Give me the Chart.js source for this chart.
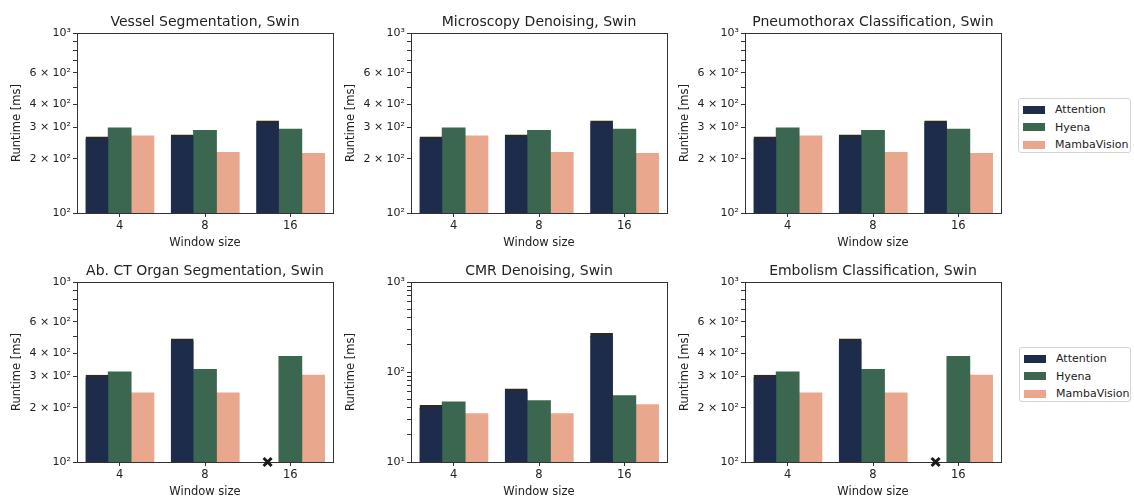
<!DOCTYPE html>
<html><head><meta charset="utf-8">
<script src="https://cdn.jsdelivr.net/npm/chart.js@4.4.1/dist/chart.umd.min.js"></script>
<style>
body{margin:0;background:#fff;width:1134px;height:500px;position:relative;overflow:hidden;font-family:'DejaVu Sans',sans-serif}
canvas.cv{position:absolute}
.legend{position:absolute;border:1px solid #d4d4d4;border-radius:3px;background:rgba(255,255,255,0.85);font-size:11px;color:#222;padding:2px 4px;box-sizing:border-box}
.legend .row{display:flex;align-items:center;height:17.5px;white-space:nowrap}
.legend .sw{width:22px;height:8px;margin-right:10px;flex:none}
</style></head>
<body>
<canvas class="cv" id="c0" width="340" height="253" style="left:0px;top:0px"></canvas>
<canvas class="cv" id="c1" width="340" height="253" style="left:334px;top:0px"></canvas>
<canvas class="cv" id="c2" width="340" height="253" style="left:668px;top:0px"></canvas>
<canvas class="cv" id="c3" width="340" height="253" style="left:0px;top:249px"></canvas>
<canvas class="cv" id="c4" width="340" height="253" style="left:334px;top:249px"></canvas>
<canvas class="cv" id="c5" width="340" height="253" style="left:668px;top:249px"></canvas>
<div class="legend" id="lg0" style="left:1018px;top:98px;width:113px;height:55px"></div>
<div class="legend" id="lg1" style="left:1019px;top:347px;width:112px;height:55px"></div>
<script>
// ---- data ----
const categories = ['4', '8', '16'];
const seriesNames = ['Attention', 'Hyena', 'MambaVision'];
const seriesColors = ['#1e2c4b', '#3b6650', '#e9a78e'];

const vesselAttention = [264, 271, 324];
const vesselHyena = [297, 287, 292];
const vesselMamba = [268, 217, 214];

const microAttention = [264, 271, 324];
const microHyena = [297, 287, 292];
const microMamba = [268, 217, 214];

const pneumoAttention = [264, 271, 324];
const pneumoHyena = [297, 287, 292];
const pneumoMamba = [268, 217, 214];

const abctAttention = [303, 482, null];
const abctHyena = [316, 327, 386];
const abctMamba = [242, 242, 303];

const cmrAttention = [42.5, 64.8, 268];
const cmrHyena = [46.3, 47.9, 54.5];
const cmrMamba = [34.3, 34.3, 43.2];

const emboAttention = [303, 482, null];
const emboHyena = [316, 327, 386];
const emboMamba = [242, 242, 303];

const yTicksNarrow = [100, 200, 300, 400, 500, 600, 700, 800, 900, 1000];
const yLabelsNarrow = ['10²', '2 × 10²', '3 × 10²', '4 × 10²', '', '6 × 10²', '', '', '', '10³'];
const yTicksWide = [10, 20, 30, 40, 50, 60, 70, 80, 90, 100, 200, 300, 400, 500, 600, 700, 800, 900, 1000];
const yLabelsWide = ['10¹', '', '', '', '', '', '', '', '', '10²', '', '', '', '', '', '', '', '', '10³'];

const panels = [
  {id: 'c0', title: 'Vessel Segmentation, Swin', series: [vesselAttention, vesselHyena, vesselMamba], ticks: yTicksNarrow, labels: yLabelsNarrow},
  {id: 'c1', title: 'Microscopy Denoising, Swin', series: [microAttention, microHyena, microMamba], ticks: yTicksNarrow, labels: yLabelsNarrow},
  {id: 'c2', title: 'Pneumothorax Classification, Swin', series: [pneumoAttention, pneumoHyena, pneumoMamba], ticks: yTicksNarrow, labels: yLabelsNarrow},
  {id: 'c3', title: 'Ab. CT Organ Segmentation, Swin', series: [abctAttention, abctHyena, abctMamba], ticks: yTicksNarrow, labels: yLabelsNarrow},
  {id: 'c4', title: 'CMR Denoising, Swin', series: [cmrAttention, cmrHyena, cmrMamba], ticks: yTicksWide, labels: yLabelsWide},
  {id: 'c5', title: 'Embolism Classification, Swin', series: [emboAttention, emboHyena, emboMamba], ticks: yTicksNarrow, labels: yLabelsNarrow}
];

// ---- drawing ----
const FONT = 'DejaVu Sans';
const TXT = '#222';
const LINE = '#333';

const framePlugin = {
  id: 'frame',
  afterDatasetsDraw(chart) {
    const {ctx, chartArea: a} = chart;
    ctx.save();
    ctx.strokeStyle = LINE;
    ctx.lineWidth = 1;
    const l = Math.round(a.left) + 0.5, t = Math.round(a.top) + 0.5;
    ctx.strokeRect(l, t, Math.round(a.right) - Math.round(a.left), Math.round(a.bottom) - Math.round(a.top));
    // missing-value markers
    const meta = chart.getDatasetMeta(0);
    const ys = chart.scales.y;
    chart.data.datasets[0].data.forEach((v, i) => {
      if (v === null) {
        const x = meta.data[i].x;
        const y = ys.getPixelForValue(ys.min);
        const r = 4;
        ctx.strokeStyle = '#1a1a1a';
        ctx.lineWidth = 3;
        ctx.beginPath();
        ctx.moveTo(x - r, y - r); ctx.lineTo(x + r, y + r);
        ctx.moveTo(x + r, y - r); ctx.lineTo(x - r, y + r);
        ctx.stroke();
      }
    });
    ctx.restore();
  }
};

panels.forEach(p => {
  const datasets = p.series.map((d, k) => ({
    label: seriesNames[k],
    data: d,
    backgroundColor: seriesColors[k],
    borderColor: '#2a2a2a',
    borderWidth: k === 0 ? {top: 3, left: 0, right: 0, bottom: 0} : 0,
    borderSkipped: false,
    inflateAmount: 0.5,
    barPercentage: 1.0,
    categoryPercentage: 0.8
  }));
  new Chart(document.getElementById(p.id), {
    type: 'bar',
    data: {labels: categories, datasets},
    plugins: [framePlugin],
    options: {
      responsive: false,
      animation: false,
      devicePixelRatio: 1,
      layout: {padding: {left: 0, right: 7, top: 0, bottom: 0}},
      plugins: {
        legend: {display: false},
        tooltip: {enabled: false},
        title: {display: true, text: p.title, color: TXT, fullSize: false, align: 'center',
          font: {family: FONT, size: 14, weight: 'normal'},
          padding: {top: 13.6, bottom: 2.6}}
      },
      scales: {
        x: {
          offset: true,
          afterFit: s => { s.height = 40; },
          ticks: {color: TXT, font: {family: FONT, size: 11.5}, padding: 2},
          grid: {offset: false, drawOnChartArea: false, tickLength: 4, color: LINE},
          border: {display: false},
          title: {display: true, text: 'Window size', color: TXT, font: {family: FONT, size: 11.5}, padding: {top: 0, bottom: 3}}
        },
        y: {
          type: 'logarithmic',
          min: p.ticks[0],
          max: p.ticks[p.ticks.length - 1],
          afterFit: s => { s.width = 77; },
          afterBuildTicks: s => { s.ticks = p.ticks.map(v => ({value: v})); },
          ticks: {autoSkip: false, color: TXT, font: {family: FONT, size: 11}, padding: 2,
            callback: (v, i) => p.labels[i]},
          grid: {drawOnChartArea: false, tickLength: 4, color: LINE},
          border: {display: false},
          title: {display: true, text: 'Runtime [ms]', color: TXT, font: {family: FONT, size: 11.5}, padding: {top: 10, bottom: 0}}
        }
      }
    }
  });
});

// legends (built from series names/colours)
['lg0', 'lg1'].forEach(id => {
  const el = document.getElementById(id);
  seriesNames.forEach((n, k) => {
    const row = document.createElement('div');
    row.className = 'row';
    const sw = document.createElement('span');
    sw.className = 'sw';
    sw.style.background = seriesColors[k];
    const tx = document.createElement('span');
    tx.textContent = n;
    row.appendChild(sw); row.appendChild(tx);
    el.appendChild(row);
  });
});
</script>
</body></html>
